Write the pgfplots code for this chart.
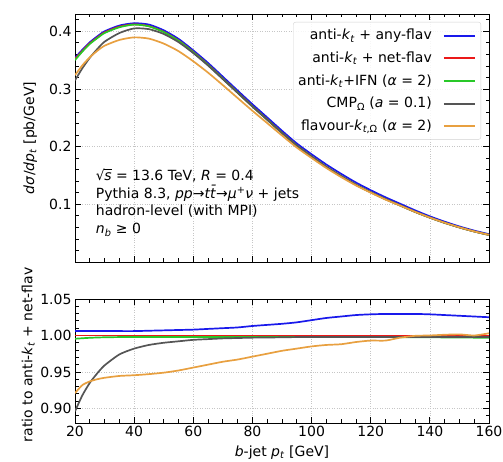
\documentclass[border=0pt]{standalone}
\usepackage{fontspec}
\setmainfont{DejaVu Sans}
\usepackage{pgfplots}
\usepackage{pgfplotstable}
\pgfplotsset{compat=1.18}

\definecolor{cblue}{RGB}{25,25,235}
\definecolor{cred}{RGB}{235,25,25}
\definecolor{ifngreen}{RGB}{40,200,40}
\definecolor{cgrey}{RGB}{85,85,85}
\definecolor{corange}{RGB}{232,160,64}

\newcommand{\fs}{\fontsize{14}{17.7}\selectfont}
\newcommand{\kt}{\textit{k}\textsubscript{\textit{t}}}
\newcommand{\legline}[1]{\tikz[baseline=-0.55ex]{\draw[draw=#1, line width=2.1pt] (0pt,0pt) -- (31pt,0pt);}}

% top panel: dsigma/dpt [pb/GeV]
\pgfplotstableread{
x     b      r      g      gr     o
20    0.354  0.352  0.350  0.315  0.324
22.5  0.368  0.366  0.365  0.336  0.341
25    0.381  0.379  0.378  0.354  0.355
27.5  0.391  0.389  0.388  0.369  0.366
30    0.400  0.398  0.397  0.382  0.375
35    0.410  0.408  0.407  0.397  0.385
40    0.414  0.412  0.4116 0.405  0.3895
45    0.4117 0.409  0.4086 0.4037 0.3873
50    0.4018 0.399  0.3986 0.3954 0.3787
55    0.3869 0.384  0.3836 0.3813 0.3656
60    0.3669 0.364  0.3636 0.3622 0.3480
65    0.3451 0.342  0.3417 0.3406 0.3283
70    0.3212 0.318  0.3177 0.3170 0.3066
75    0.2972 0.294  0.2937 0.2932 0.2843
80    0.2735 0.270  0.2697 0.2695 0.2622
85    0.2506 0.247  0.2468 0.2466 0.2408
90    0.2276 0.224  0.2238 0.2237 0.2193
95    0.2056 0.202  0.2018 0.2018 0.1984
100   0.1868 0.183  0.1828 0.1828 0.1803
105   0.1690 0.165  0.1648 0.1648 0.1629
110   0.1529 0.149  0.1489 0.1489 0.1472
115   0.1378 0.134  0.1339 0.1339 0.1328
120   0.1245 0.121  0.1209 0.1209 0.1202
125   0.1122 0.109  0.1089 0.1089 0.1082
130   0.1009 0.098  0.0979 0.0979 0.0977
135   0.0896 0.087  0.0869 0.0869 0.0870
140   0.0792 0.077  0.0769 0.0769 0.0770
145   0.0699 0.068  0.0679 0.0679 0.0681
150   0.0616 0.060  0.0599 0.0599 0.0601
155   0.0544 0.053  0.0529 0.0529 0.0530
160   0.0482 0.047  0.0469 0.0469 0.0471
}\toptable

% bottom panel: ratio to anti-kt + net-flav
\pgfplotstableread{
x     b      r      g      gr     o
20    1.006  1.000  0.9955 0.896  0.921
22.5  1.006  1.000  0.9962 0.918  0.932
25    1.006  1.000  0.9968 0.935  0.937
27.5  1.006  1.000  0.9972 0.948  0.940
30    1.006  1.000  0.9975 0.959  0.942
35    1.006  1.000  0.9978 0.974  0.9445
40    1.006  1.000  0.9980 0.982  0.9455
45    1.0065 1.000  0.9980 0.987  0.947
50    1.007  1.000  0.9980 0.990  0.949
55    1.0075 1.000  0.9980 0.992  0.952
60    1.008  1.000  0.9980 0.994  0.956
65    1.009  1.000  0.9980 0.995  0.960
70    1.010  1.000  0.9980 0.996  0.964
75    1.011  1.000  0.9980 0.9965 0.967
80    1.013  1.000  0.9980 0.997  0.971
85    1.0145 1.000  0.9980 0.9972 0.975
90    1.016  1.000  0.9980 0.9975 0.979
95    1.018  1.000  0.9980 0.9978 0.982
100   1.021  1.000  0.9980 0.998  0.985
105   1.024  1.000  0.9980 0.998  0.987
110   1.026  1.000  0.9980 0.998  0.988
115   1.028  1.000  0.9980 0.998  0.991
120   1.029  1.000  0.9980 0.998  0.993
125   1.0295 1.000  0.9978 0.998  0.993
130   1.0295 1.000  0.9977 0.998  0.997
135   1.0295 1.000  0.9975 0.998  0.9995
140   1.029  1.000  0.9975 0.998  1.000
145   1.028  1.000  0.9973 0.998  1.001
150   1.027  1.000  0.9972 0.998  1.0015
155   1.026  1.000  0.9970 0.998  1.000
160   1.025  1.000  0.9970 0.998  1.003
}\ratiotable

\pgfplotsset{
  panel/.style={
    scale only axis, width=414pt,
    xmin=20, xmax=160,
    xtick={20,40,...,160},
    minor xtick={25,30,35,45,50,55,65,70,75,85,90,95,105,110,115,125,130,135,145,150,155},
    tick align=inside, tick pos=both,
    major tick length=6pt, minor tick length=3.5pt,
    every tick/.style={black, line width=0.8pt},
    axis line style={line width=0.9pt},
    grid=major,
    major grid style={gray!45, dotted, line width=0.7pt},
    tick label style={font=\fs},
    label style={font=\fs},
    /pgf/number format/assume math mode=true,
  },
  crv/.style={line width=1.7pt, no markers, smooth, tension=0.4},
}

\begin{document}
\begin{tikzpicture}
\useasboundingbox (0pt,0pt) rectangle (503pt,-462pt);

\begin{axis}[panel, name=top,
  at={(75pt,-14pt)}, anchor=north west, height=248pt,
  ymin=0, ymax=0.43,
  ytick={0.1,0.2,0.3,0.4},
  minor ytick={0.02,0.04,0.06,0.08,0.12,0.14,0.16,0.18,0.22,0.24,0.26,0.28,0.32,0.34,0.36,0.38,0.42},
  yticklabel style={/pgf/number format/.cd, fixed, precision=1},
  xticklabels={},
  ylabel={\textit{dσ}/\textit{dp}\textsubscript{\textit{t}} [pb/GeV]},
  ylabel style={at={(axis description cs:-0.108,0.5)}, anchor=center},
]
\addplot[cblue, crv] table[x=x,y=b] {\toptable};
\addplot[cred, crv] table[x=x,y=r] {\toptable};
\addplot[ifngreen, crv] table[x=x,y=g] {\toptable};
\addplot[cgrey, crv] table[x=x,y=gr] {\toptable};
\addplot[corange, crv] table[x=x,y=o] {\toptable};
\node[anchor=north west, align=left, font=\fs, inner sep=0pt] at (rel axis cs:0.05,0.375)
  {√\kern-0.5pt\rlap{\rule[0.74em]{0.55em}{0.055em}}\textit{s} = 13.6 TeV, \textit{R} = 0.4\\
   Pythia 8.3, \textit{pp}→\textit{tt̄}→\textit{μ}\textsuperscript{+}\textit{ν} + jets\\
   hadron-level (with MPI)\\
   \textit{n}\textsubscript{\textit{b}} ≥ 0};
\node[anchor=north east, draw=gray!35, rounded corners=2.5pt, fill=white, fill opacity=0.85, text opacity=1, draw opacity=1,
      inner xsep=5pt, inner ysep=2pt, font=\fs] at (rel axis cs:0.981,0.968)
  {\renewcommand{\arraystretch}{1.28}%
   \begin{tabular}{@{}r@{\hspace{11pt}}l@{}}
   anti-\kt{} + any-flav & \legline{cblue}\\
   anti-\kt{} + net-flav & \legline{cred}\\
   anti-\kt{}+IFN (\textit{α} = 2) & \legline{ifngreen}\\
   CMP\textsubscript{Ω} (\textit{a} = 0.1) & \legline{cgrey}\\
   flavour-\textit{k}\textsubscript{\textit{t},Ω} (\textit{α} = 2) & \legline{corange}
   \end{tabular}};
\end{axis}

\begin{axis}[panel, name=bot,
  at={(75pt,-299pt)}, anchor=north west, height=124pt,
  ymin=0.88, ymax=1.05,
  ytick={0.90,0.95,1.00,1.05},
  minor ytick={0.89,0.91,0.92,0.93,0.94,0.96,0.97,0.98,0.99,1.01,1.02,1.03,1.04},
  yticklabel style={/pgf/number format/.cd, fixed, fixed zerofill, precision=2},
  xticklabel style={/pgf/number format/.cd, fixed, precision=0},
  xlabel={\textit{b}-jet \textit{p}\textsubscript{\textit{t}} [GeV]},
  xlabel style={at={(axis description cs:0.5,-0.24)}, anchor=center},
  ylabel={ratio to anti-\kt{} + net-flav},
  ylabel style={at={(axis description cs:-0.113,0.55)}, anchor=center},
]
\addplot[cblue, crv] table[x=x,y=b] {\ratiotable};
\addplot[cred, crv] table[x=x,y=r] {\ratiotable};
\addplot[ifngreen, crv] table[x=x,y=g] {\ratiotable};
\addplot[cgrey, crv] table[x=x,y=gr] {\ratiotable};
\addplot[corange, crv] table[x=x,y=o] {\ratiotable};
\end{axis}
\end{tikzpicture}
\end{document}
